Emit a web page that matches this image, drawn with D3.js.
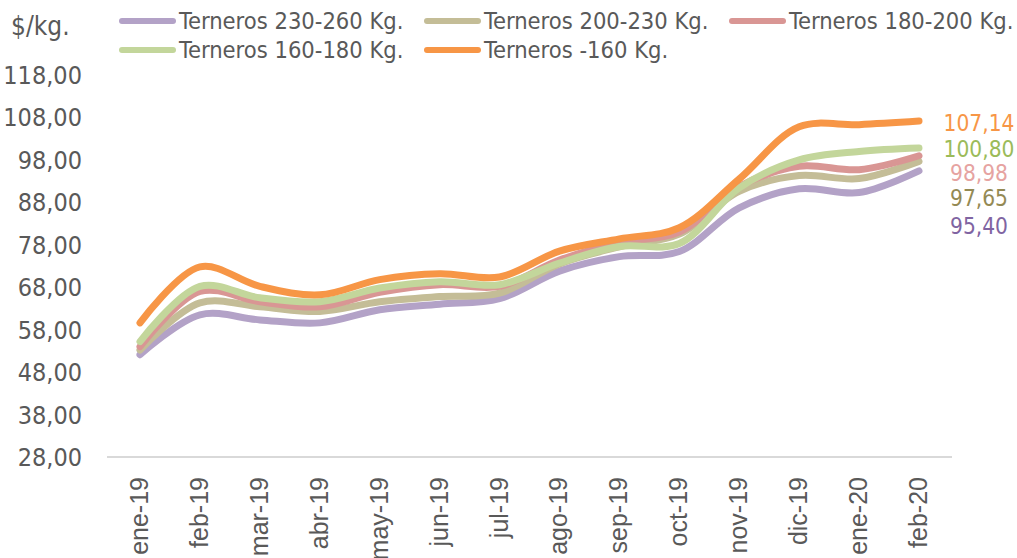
<!DOCTYPE html>
<html>
<head>
<meta charset="utf-8">
<script src="https://cdn.jsdelivr.net/npm/d3@7"></script>
<style>
  body { margin: 0; background: #fff; }
  svg { display: block; }
  text { font-family: "DejaVu Sans Condensed", "DejaVu Sans", sans-serif; font-stretch: condensed; }
</style>
</head>
<body>
<div class="chart"></div>
<script>
const months = ["ene-19", "feb-19", "mar-19", "abr-19", "may-19", "jun-19", "jul-19",
  "ago-19", "sep-19", "oct-19", "nov-19", "dic-19", "ene-20", "feb-20"];

const seriesNames = ["Terneros 230-260 Kg.", "Terneros 200-230 Kg.", "Terneros 180-200 Kg.",
  "Terneros 160-180 Kg.", "Terneros -160 Kg."];

const t230_260 = [52.1, 61.5, 60.3, 59.6, 62.7, 64.0, 65.3, 71.8, 75.2, 76.4, 86.7, 91.2, 90.3, 95.40];
const t200_230 = [53.2, 64.3, 63.4, 62.3, 64.6, 65.8, 66.6, 73.5, 77.5, 80.5, 90.6, 94.3, 93.6, 97.65];
const t180_200 = [54.0, 67.0, 64.6, 63.4, 66.8, 68.6, 68.2, 74.4, 78.5, 81.0, 91.7, 96.5, 95.7, 98.98];
const t160_180 = [55.2, 68.2, 65.5, 64.6, 67.8, 69.3, 68.6, 73.7, 77.6, 78.3, 91.4, 98.0, 100.0, 100.80];
const tMenos160 = [59.6, 72.8, 68.2, 66.2, 69.8, 71.2, 70.4, 76.5, 79.4, 82.0, 93.5, 105.8, 106.3, 107.14];

const yTicks = [28, 38, 48, 58, 68, 78, 88, 98, 108, 118];

const values = [t230_260, t200_230, t180_200, t160_180, tMenos160];
const colors = ["#b3a2c7", "#c4bd97", "#d99694", "#c3d69b", "#f79646"];
const labelColors = ["#8064a2", "#948a54", "#e6a3a1", "#9bbb59", "#f79646"];

const width = 1017;
const height = 558;

const locale = d3.formatLocale({decimal: ",", thousands: ".", grouping: [3], currency: ["$", ""]});
const fmt = locale.format(".2f");

const svg = d3.select(".chart").append("svg")
  .attr("width", width)
  .attr("height", height);

const x = d3.scalePoint()
  .domain(months)
  .range([140, 919]);

const y = d3.scaleLinear()
  .domain([28, 118])
  .range([457, 75]);

// y axis labels (no axis line)
svg.append("g")
  .selectAll("text")
  .data(yTicks)
  .enter()
  .append("text")
  .attr("x", 82)
  .attr("y", d => y(d))
  .attr("dy", "0.36em")
  .attr("text-anchor", "end")
  .style("font-size", "25px")
  .attr("fill", "#595959")
  .text(d => fmt(d));

// x axis
const xAxis = svg.append("g")
  .attr("transform", "translate(0," + y(28) + ")")
  .call(d3.axisBottom(x).tickSize(0).tickPadding(0));

xAxis.select(".domain")
  .attr("d", "M107,0H952")
  .attr("stroke", "#d9d9d9")
  .attr("stroke-width", 2);

xAxis.selectAll(".tick text")
  .attr("transform", "rotate(-90)")
  .attr("x", -20)
  .attr("y", 0)
  .attr("dy", "0.3em")
  .attr("text-anchor", "end")
  .style("font-size", "25px")
  .style("font-family", "'Liberation Sans', Arial, sans-serif")
  .style("font-stretch", "normal")
  .attr("fill", "#595959");

// lines
const line = d3.line()
  .x((d, i) => x(months[i]))
  .y(d => y(d))
  .curve(d3.curveCatmullRom.alpha(0.5));

svg.append("g")
  .selectAll("path")
  .data(values)
  .enter()
  .append("path")
  .attr("d", line)
  .attr("fill", "none")
  .attr("stroke", (d, i) => colors[i])
  .attr("stroke-width", 7)
  .attr("stroke-linecap", "round")
  .attr("stroke-linejoin", "round");

// end labels
const labelY = [226, 198, 173, 149, 123];
svg.append("g")
  .selectAll("text")
  .data(values)
  .enter()
  .append("text")
  .attr("x", 979)
  .attr("y", (d, i) => labelY[i])
  .attr("dy", "0.36em")
  .attr("text-anchor", "middle")
  .style("font-size", "22.5px")
  .attr("fill", (d, i) => labelColors[i])
  .text(d => fmt(d[d.length - 1]));

// unit
svg.append("text")
  .attr("x", 11)
  .attr("y", 35)
  .style("font-size", "26px")
  .attr("fill", "#595959")
  .text("$/kg.");

// legend
const legendPos = [[120, 21], [425, 21], [730, 21], [120, 50], [425, 50]];
const legend = svg.append("g")
  .selectAll("g")
  .data(seriesNames)
  .enter()
  .append("g")
  .attr("transform", (d, i) => "translate(" + legendPos[i][0] + "," + legendPos[i][1] + ")");

legend.append("line")
  .attr("x1", 2)
  .attr("x2", 53)
  .attr("stroke", (d, i) => colors[i])
  .attr("stroke-width", 6)
  .attr("stroke-linecap", "round");

legend.append("text")
  .attr("x", 59)
  .attr("dy", "0.36em")
  .style("font-size", "23.5px")
  .attr("fill", "#595959")
  .text(d => d);
</script>
</body>
</html>
